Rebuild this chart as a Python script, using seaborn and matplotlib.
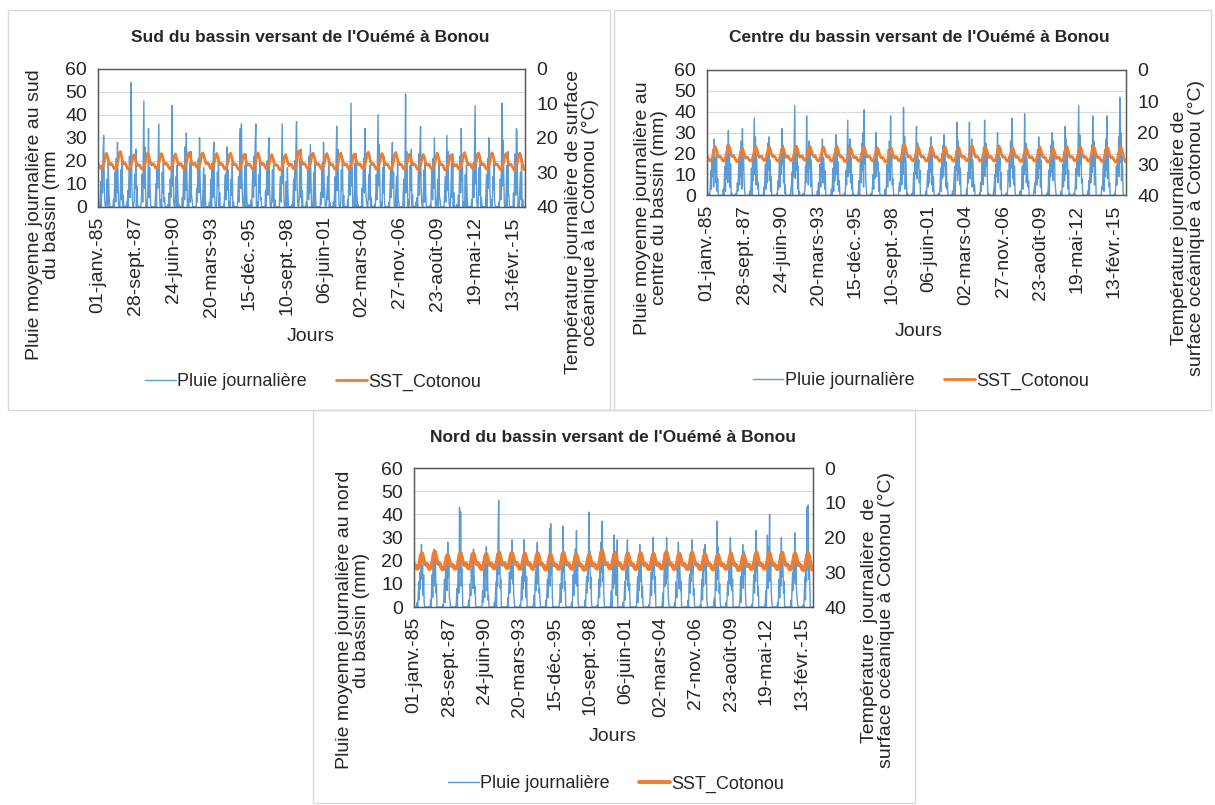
import numpy as np
import pandas as pd
import matplotlib
matplotlib.use("Agg")
import matplotlib.pyplot as plt
from matplotlib.lines import Line2D
from matplotlib.patches import Rectangle
import seaborn as sns

# Pluie journaliere (mm) : deux releves par mois (1er et 16), une ligne par annee 1985-2015
pluie_sud = [
    [0,0,1,0,4,11,0,18,6,24,31,9,2,0,0,3,12,0,19,7,2,0,0,0],
    [0,0,0,3,0,9,15,2,21,6,28,12,0,1,0,6,16,3,20,0,5,0,0,0],
    [0,0,2,0,7,0,13,22,4,19,54,10,3,0,0,2,14,8,25,0,9,1,0,0],
    [0,0,0,1,5,14,2,23,46,8,26,5,0,2,0,9,34,4,17,6,0,0,0,0],
    [0,0,0,0,3,10,0,17,8,22,36,11,1,0,3,0,15,6,21,2,4,0,0,0],
    [0,0,1,0,6,0,12,4,20,44,9,18,2,0,0,5,13,0,18,8,0,1,0,0],
    [0,0,0,4,0,11,18,3,26,7,32,14,0,3,0,8,19,2,24,5,3,0,0,0],
    [0,0,0,0,8,2,16,21,6,30,12,4,0,0,1,7,17,0,14,3,0,0,0,0],
    [0,0,2,0,5,12,0,19,4,23,28,6,1,0,0,3,15,9,22,0,6,0,0,0],
    [0,0,0,1,0,9,14,3,18,26,7,16,0,2,0,4,12,5,19,0,2,0,0,0],
    [0,0,0,0,6,13,2,21,34,8,36,12,3,0,0,6,18,0,23,7,0,1,0,0],
    [0,1,0,3,0,10,17,4,22,9,28,36,0,0,2,0,14,6,20,3,4,0,0,0],
    [0,0,0,0,7,0,15,20,5,24,30,8,1,0,0,5,16,2,18,0,3,0,0,0],
    [0,0,0,0,0,8,13,2,19,36,10,22,4,0,0,3,11,0,17,6,0,0,0,0],
    [0,0,1,0,5,12,0,20,7,26,37,9,2,0,0,8,21,4,25,0,7,0,0,0],
    [0,0,0,2,0,10,16,3,22,6,27,13,0,1,0,4,15,0,19,5,0,0,0,0],
    [0,0,0,0,6,1,14,19,4,28,11,5,0,0,1,6,13,3,21,0,2,0,0,0],
    [0,0,2,0,4,13,0,22,35,7,25,10,1,0,0,2,16,7,20,0,5,0,0,0],
    [0,0,0,3,0,11,18,5,24,45,9,17,0,2,0,7,19,0,23,6,0,1,0,0],
    [0,0,0,0,8,0,15,21,6,34,12,4,2,0,0,5,14,3,18,0,4,0,0,0],
    [0,0,1,0,5,14,3,22,40,9,27,11,0,0,2,0,17,6,22,4,0,0,0,0],
    [0,0,0,2,0,9,16,4,20,28,8,15,1,0,0,6,13,0,19,3,2,0,0,0],
    [0,0,0,0,7,12,0,19,49,6,24,10,0,3,0,4,18,7,25,0,5,0,0,0],
    [0,0,2,0,4,0,14,23,5,26,35,9,2,0,0,7,16,2,21,6,0,0,0,0],
    [0,0,0,1,0,10,17,3,21,8,30,14,0,0,1,5,12,0,20,4,3,0,0,0],
    [0,0,0,0,6,13,2,18,31,7,24,5,1,0,0,8,19,4,23,0,6,0,0,0],
    [0,1,0,0,5,0,15,22,6,34,11,17,0,2,0,3,14,0,18,7,0,0,0,0],
    [0,0,0,3,0,11,19,4,25,44,10,20,2,0,0,6,17,5,22,0,4,0,0,0],
    [0,0,0,0,7,14,0,21,8,30,26,6,0,0,3,0,13,7,19,2,0,0,0,0],
    [0,0,2,0,4,12,3,20,45,9,29,13,1,0,0,5,18,0,24,6,5,0,0,0],
    [0,0,0,0,6,0,16,23,5,34,33,10,0,2,0,7,15,3,21,0,3,0,0,0],
]
pluie_centre = [
    [0,0,0,0,1,0,5,12,3,17,9,22,4,27,11,18,6,21,2,8,0,0,0,0],
    [0,0,0,0,0,3,0,9,14,2,19,8,24,6,31,10,20,4,15,0,1,0,0,0],
    [0,0,0,1,0,0,6,2,11,16,5,21,9,26,3,32,12,18,7,2,0,0,0,0],
    [0,0,0,0,2,0,4,13,0,18,7,23,37,10,28,5,19,11,3,6,0,0,0,0],
    [0,0,0,0,0,4,0,10,15,3,20,6,25,12,28,7,17,2,9,0,0,0,0,0],
    [0,0,0,0,1,0,7,3,12,18,4,22,10,32,15,24,6,19,1,5,0,0,0,0],
    [0,0,0,0,0,2,5,11,0,16,9,27,43,8,23,12,20,3,14,0,2,0,0,0],
    [0,0,0,1,0,0,3,14,6,38,11,19,5,26,13,21,4,17,8,0,0,0,0,0],
    [0,0,0,0,2,0,6,0,10,15,4,20,9,27,6,18,11,3,12,1,0,0,0,0],
    [0,0,0,0,0,3,0,8,13,2,17,7,22,29,10,24,5,16,2,7,0,0,0,0],
    [0,0,0,0,1,0,4,12,5,19,36,9,24,11,27,6,18,3,10,0,1,0,0,0],
    [0,0,0,0,0,2,7,0,14,20,6,25,12,30,4,41,15,21,7,3,0,0,0,0],
    [0,0,0,1,0,0,5,10,3,17,8,21,30,9,23,12,16,2,11,0,0,0,0,0],
    [0,0,0,0,3,0,0,9,15,4,22,11,26,7,38,14,19,5,8,2,0,0,0,0],
    [0,0,0,0,0,4,6,2,13,19,5,24,10,42,16,28,3,18,9,0,1,0,0,0],
    [0,0,0,0,1,0,3,11,0,16,10,20,33,8,25,13,17,6,12,0,0,0,0,0],
    [0,0,0,0,0,2,0,7,12,4,18,6,23,11,28,5,20,2,9,1,0,0,0,0],
    [0,0,0,1,0,0,5,13,2,20,8,24,9,29,14,22,4,16,3,6,0,0,0,0],
    [0,0,0,0,2,0,4,9,14,0,21,12,35,7,26,10,19,5,13,0,0,0,0,0],
    [0,0,0,0,0,3,0,11,6,18,35,8,22,13,27,4,17,10,2,5,0,0,0,0],
    [0,0,0,0,1,0,6,2,13,17,5,23,11,36,9,25,14,20,6,0,1,0,0,0],
    [0,0,0,0,0,2,5,10,0,15,9,21,30,6,24,12,18,3,11,0,0,0,0,0],
    [0,0,0,1,0,0,3,12,7,19,4,26,13,28,37,8,21,5,14,2,0,0,0,0],
    [0,0,0,0,2,0,0,8,14,3,20,10,39,12,25,6,18,11,4,7,0,0,0,0],
    [0,0,0,0,0,3,6,1,11,16,5,22,8,28,13,23,4,17,2,0,0,0,0,0],
    [0,0,0,0,1,0,4,12,0,18,9,24,11,30,7,26,15,19,6,3,0,0,0,0],
    [0,0,0,0,0,2,0,9,15,4,21,7,33,10,27,14,20,3,12,0,1,0,0,0],
    [0,0,0,1,0,0,5,13,3,19,10,25,43,9,29,15,22,6,8,2,0,0,0,0],
    [0,0,0,0,2,0,7,0,12,17,6,24,11,38,14,26,5,19,10,0,0,0,0,0],
    [0,0,0,0,0,4,3,10,16,2,22,9,27,12,38,8,23,13,4,6,0,0,0,0],
    [0,0,0,0,1,0,6,14,5,20,11,28,9,47,16,30,7,21,12,0,0,0,0,0],
]
pluie_nord = [
    [0,0,0,0,0,0,2,0,6,11,3,15,8,20,27,12,18,5,14,2,0,0,0,0],
    [0,0,0,0,0,0,0,3,0,9,14,4,18,9,25,11,21,6,10,0,0,0,0,0],
    [0,0,0,0,0,0,1,0,5,12,2,17,10,22,7,28,13,19,4,3,0,0,0,0],
    [0,0,0,0,0,0,0,2,8,0,13,20,6,43,15,41,9,17,11,0,0,0,0,0],
    [0,0,0,0,0,0,3,0,4,10,5,16,11,21,8,25,14,6,9,1,0,0,0,0],
    [0,0,0,0,0,0,0,1,7,2,12,18,4,23,13,26,7,20,3,5,0,0,0,0],
    [0,0,0,0,0,0,2,0,5,11,0,17,9,31,46,14,22,8,12,0,0,0,0,0],
    [0,0,0,0,0,0,0,4,0,9,15,6,19,12,24,29,10,18,5,2,0,0,0,0],
    [0,0,0,0,0,0,1,0,6,13,3,18,8,29,11,22,15,4,13,0,0,0,0,0],
    [0,0,0,0,0,0,0,2,5,0,11,16,7,21,28,10,19,6,8,3,0,0,0,0],
    [0,0,0,0,0,0,3,0,7,12,4,19,13,34,9,36,14,20,5,0,0,0,0,0],
    [0,0,0,0,0,0,0,1,4,10,2,16,22,8,35,15,23,7,11,1,0,0,0,0],
    [0,0,0,0,0,0,2,0,6,14,5,18,10,25,12,33,9,19,4,0,0,0,0,0],
    [0,0,0,0,0,0,0,3,0,8,13,6,20,11,41,17,24,8,13,2,0,0,0,0],
    [0,0,0,0,0,0,1,0,5,12,4,17,9,28,15,37,11,21,6,0,0,0,0,0],
    [0,0,0,0,0,0,0,2,7,0,14,19,8,31,10,24,16,5,12,29,0,0,0,0],
    [0,0,0,0,0,0,2,0,4,11,3,16,12,22,29,9,18,7,10,0,0,0,0,0],
    [0,0,0,0,0,0,0,1,6,13,2,18,7,27,11,23,14,4,9,1,0,0,0,0],
    [0,0,0,0,0,0,1,0,3,9,15,5,20,12,30,16,21,6,13,0,0,0,0,0],
    [0,0,0,0,0,0,0,2,6,0,12,17,9,24,10,30,13,19,5,2,0,0,0,0],
    [0,0,0,0,0,0,2,0,5,11,4,19,13,28,8,22,15,7,11,0,0,0,0,0],
    [0,0,0,0,0,0,0,3,0,10,14,6,21,11,29,14,18,5,8,1,0,0,0,0],
    [0,0,0,0,0,0,1,0,7,12,3,17,9,25,16,27,10,20,4,0,0,0,0,0],
    [0,0,0,0,0,0,0,2,4,0,13,18,7,37,12,26,15,6,10,2,0,0,0,0],
    [0,0,0,0,0,0,2,0,6,11,5,16,10,23,30,9,19,7,12,0,0,0,0,0],
    [0,0,0,0,0,0,0,1,5,13,2,18,12,27,8,24,14,21,6,1,0,0,0,0],
    [0,0,0,0,0,0,1,0,3,10,14,6,19,11,33,15,22,5,9,0,0,0,0,0],
    [0,0,0,0,0,0,0,2,7,0,12,31,8,26,14,40,11,19,7,3,0,0,0,0],
    [0,0,0,0,0,0,2,0,5,12,4,17,9,30,13,24,16,6,11,0,0,0,0,0],
    [0,0,0,0,0,0,0,3,0,9,15,7,20,12,32,10,23,8,5,2,0,0,0,0],
    [0,0,0,0,0,0,1,0,6,13,3,19,11,43,16,44,12,20,9,0,0,0,0,0],
]

# SST Cotonou (degC), une valeur par mois (janv. -> dec.), 1985-2015
sst_cotonou = [
    [27.6,28.4,28.9,29.0,28.3,27.0,25.1,24.5,25.6,27.1,27.8,27.5],
    [27.8,28.6,29.1,28.8,28.0,26.6,24.6,24.0,25.3,26.8,27.6,27.3],
    [27.9,28.7,29.2,29.1,28.4,27.3,25.6,25.0,26.0,27.4,28.1,27.8],
    [28.0,28.8,29.0,28.9,28.2,26.9,25.0,24.4,25.5,27.0,27.9,27.6],
    [27.5,28.3,28.8,28.9,28.1,26.8,24.9,24.6,25.7,27.0,27.7,27.4],
    [27.7,28.5,29.0,29.1,28.3,27.1,25.3,24.7,25.8,27.2,27.9,27.5],
    [27.6,28.4,28.9,28.8,28.0,26.7,24.8,24.3,25.4,26.9,27.8,27.6],
    [27.4,28.2,28.7,28.8,28.0,26.5,24.7,24.4,25.5,26.8,27.6,27.3],
    [27.6,28.5,29.0,29.0,28.2,27.0,25.2,24.6,25.7,27.1,27.8,27.5],
    [27.7,28.6,29.1,28.9,28.1,26.8,25.0,24.5,25.5,27.0,27.8,27.6],
    [27.9,28.7,29.2,29.2,28.4,27.2,25.4,24.8,25.9,27.3,28.0,27.7],
    [27.8,28.5,29.0,29.0,28.2,26.9,24.9,24.4,25.6,27.0,27.8,27.5],
    [27.6,28.4,28.9,29.0,28.3,27.1,25.3,24.9,26.0,27.3,28.0,27.8],
    [28.1,28.9,29.3,29.2,28.5,27.4,25.7,24.9,26.0,27.4,28.1,27.7],
    [27.7,28.5,29.0,28.8,28.0,26.4,24.3,23.7,25.1,26.8,27.7,27.5],
    [27.6,28.4,28.9,28.9,28.1,26.8,24.9,24.5,25.6,27.0,27.8,27.5],
    [27.7,28.5,29.0,29.0,28.2,27.0,25.1,24.6,25.7,27.1,27.9,27.6],
    [27.8,28.6,29.1,29.0,28.3,27.0,25.0,24.5,25.6,27.1,27.9,27.6],
    [27.7,28.5,29.0,29.1,28.3,27.1,25.2,24.7,25.8,27.2,27.9,27.6],
    [27.6,28.4,28.9,28.9,28.1,26.7,24.7,24.2,25.4,26.9,27.8,27.5],
    [27.8,28.6,29.1,29.0,28.2,27.0,25.2,24.6,25.7,27.1,27.9,27.6],
    [27.7,28.5,29.0,29.1,28.3,26.9,24.8,24.3,25.5,27.0,27.8,27.6],
    [27.8,28.6,29.1,29.0,28.2,27.1,25.3,24.8,25.8,27.2,27.9,27.6],
    [27.9,28.7,29.2,29.1,28.3,27.2,25.4,24.9,26.0,27.3,28.0,27.7],
    [27.7,28.5,29.0,29.0,28.4,27.3,25.5,24.5,25.6,27.0,27.9,27.7],
    [28.0,28.9,29.4,29.3,28.6,27.4,25.6,25.0,26.1,27.5,28.2,27.9],
    [27.8,28.6,29.1,29.0,28.2,26.8,24.9,24.3,25.5,27.0,27.9,27.6],
    [27.7,28.5,29.0,28.9,28.1,26.9,25.0,24.4,25.6,27.1,27.9,27.6],
    [27.8,28.6,29.1,29.0,28.2,26.7,24.8,24.4,25.6,27.1,27.9,27.7],
    [27.9,28.7,29.2,29.1,28.3,27.0,25.1,24.6,25.7,27.2,28.0,27.7],
    [28.0,28.8,29.3,29.4,28.6,27.1,24.9,24.5,25.6,27.3,28.4,29.3],
]

tick_labels = ["01-janv.-85", "28-sept.-87", "24-juin-90", "20-mars-93",
               "15-déc.-95", "10-sept.-98", "06-juin-01", "02-mars-04",
               "27-nov.-06", "23-août-09", "19-mai-12", "13-févr.-15"]

titres = ["Sud du bassin versant de l'Ouémé à Bonou",
          "Centre du bassin versant de l'Ouémé à Bonou",
          "Nord du bassin versant de l'Ouémé à Bonou"]
labels_pluie = ["Pluie moyenne journalière au sud\ndu bassin (mm",
                "Pluie moyenne journalière au\ncentre du bassin (mm)",
                "Pluie moyenne journalière au nord\ndu bassin (mm)"]
labels_sst = ["Température journalière de surface\nocéanique à la Cotonou (°C)",
              "Température journalière de\nsurface océanique à Cotonou (°C)",
              "Température  journalière  de\nsurface océanique à Cotonou (°C)"]

W, H = 1215, 805
BLUE = "#5B9BD5"
ORANGE = "#ED7D31"
NARROW = ["Liberation Sans Narrow", "Liberation Sans", "DejaVu Sans"]

sns.set_style("white")
plt.rcParams["font.family"] = ["Liberation Sans", "DejaVu Sans"]


def fx(x):
    return x / W


def fy(y):
    return 1 - y / H


# dates des releves
mois = pd.date_range("1985-01-01", "2015-12-01", freq="MS")
dates_pluie = pd.DatetimeIndex([d for m in mois for d in (m, m + pd.Timedelta(days=15))])
dates_sst = mois + pd.Timedelta(days=14)
sst = np.ravel(sst_cotonou)
tick_pos = pd.Timestamp("1985-01-01") + pd.to_timedelta(np.arange(12) * 1000, unit="D")

# mise en page en pixels : (gauche, haut, droite, bas) de la zone de trace, cadre du panneau, etc.
panels = [
    dict(pluie=pluie_sud, plot=(98, 68.7, 525, 206.7), box=(8, 10, 610, 410),
         title=(310, 37), ylab=(43, 215), y2lab=(582, 222), jours=(311, 336), leg=(313, 382), lw=2.0),
    dict(pluie=pluie_centre, plot=(707, 70, 1126, 195.4), box=(614, 10, 1211, 410),
         title=(919, 37), ylab=(651, 208), y2lab=(1188, 228), jours=(919, 332), leg=(921, 381), lw=2.0),
    dict(pluie=pluie_nord, plot=(414, 468, 813, 607), box=(313, 410, 915, 803),
         title=(613, 437), ylab=(353, 620), y2lab=(878, 620), jours=(613, 736), leg=(616, 784), lw=2.8),
]

fig = plt.figure(figsize=(W / 100, H / 100), dpi=100)

for i, p in enumerate(panels):
    x0, y0, x1, y1 = p["box"]
    fig.patches.append(Rectangle((fx(x0), fy(y1)), (x1 - x0) / W, (y1 - y0) / H,
                                 transform=fig.transFigure, fill=False,
                                 edgecolor="#D9D9D9", lw=1))

    l, t, r, b = p["plot"]
    ax = fig.add_axes([fx(l), fy(b), (r - l) / W, (b - t) / H])
    sns.lineplot(x=dates_pluie, y=np.ravel(p["pluie"]), ax=ax, color=BLUE, lw=1.0)
    ax.set_ylim(0, 60)
    ax.set_yticks(range(0, 61, 10))
    ax.set_xlim(pd.Timestamp("1985-01-01"), pd.Timestamp("2015-12-31"))
    ax.set_xticks(tick_pos)
    ax.set_xticklabels(tick_labels, rotation=90, fontsize=14)
    ax.tick_params(axis="y", length=0, labelsize=14, pad=8)
    ax.tick_params(axis="x", length=3, color="#BFBFBF", pad=4)
    ax.yaxis.grid(True, color="#D9D9D9", lw=0.8)
    ax.set_axisbelow(True)
    ax.set_xlabel("")
    ax.set_ylabel("")
    for s in ax.spines.values():
        s.set_color("#595959")
        s.set_linewidth(1)

    ax2 = ax.twinx()
    sns.lineplot(x=dates_sst, y=sst, ax=ax2, color=ORANGE, lw=p["lw"])
    ax2.set_ylim(40, 0)
    ax2.set_yticks(range(0, 41, 10))
    ax2.tick_params(axis="y", length=0, labelsize=14, pad=8)
    ax2.set_ylabel("")
    ax2.grid(False)
    for s in ax2.spines.values():
        s.set_color("#595959")

    fig.text(fx(p["title"][0]), fy(p["title"][1]), titres[i], ha="center", va="center",
             fontsize=12.5, fontweight="bold", family=NARROW)
    fig.text(fx(p["ylab"][0]), fy(p["ylab"][1]), labels_pluie[i], rotation=90,
             ha="center", va="center", multialignment="center", fontsize=14, linespacing=0.95)
    fig.text(fx(p["y2lab"][0]), fy(p["y2lab"][1]), labels_sst[i], rotation=90,
             ha="center", va="center", multialignment="center", fontsize=14, linespacing=0.95)
    fig.text(fx(p["jours"][0]), fy(p["jours"][1]), "Jours", ha="center", va="center",
             fontsize=14, family=NARROW)

    handles = [Line2D([], [], color=BLUE, lw=1.0), Line2D([], [], color=ORANGE, lw=p["lw"])]
    leg = ax.legend(handles, ["Pluie journalière", "SST_Cotonou"], loc="center",
                    bbox_to_anchor=(fx(p["leg"][0]), fy(p["leg"][1])),
                    bbox_transform=fig.transFigure, ncol=2, frameon=False,
                    handlelength=1.7, handletextpad=0.1, columnspacing=1.6,
                    prop={"family": NARROW, "size": 13})

fig.savefig("out.png", dpi=100, facecolor="white")
